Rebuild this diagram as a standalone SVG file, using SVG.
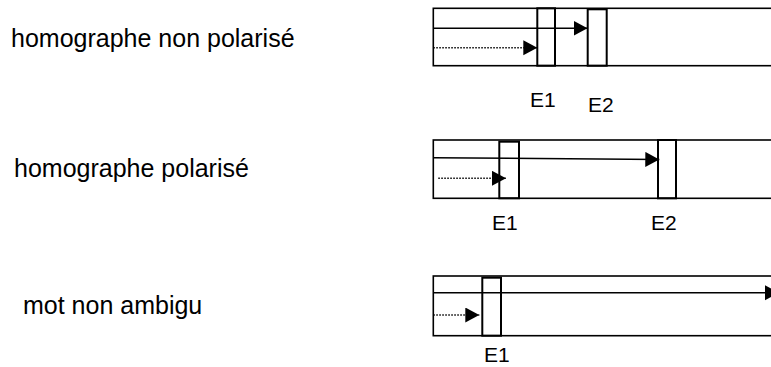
<svg xmlns="http://www.w3.org/2000/svg" width="771" height="367" viewBox="0 0 771 367">
<style>
.t{font-family:"Liberation Sans",Arial,sans-serif;fill:#000}
.lbl{font-size:25px}
.e{font-size:21px}
.band{fill:none;stroke:#000;stroke-width:1.6}
.box{fill:none;stroke:#000;stroke-width:2}
.solid{stroke:#000;stroke-width:1.6;fill:none}
.dot{stroke:#000;stroke-width:1.6;fill:none;stroke-dasharray:1.5 1.5}
</style>
<defs>
<marker id="ah" markerUnits="userSpaceOnUse" markerWidth="15" markerHeight="16" refX="14" refY="7.5" orient="auto">
<path d="M0,0 L14,7.5 L0,15 z" fill="#000"/>
</marker>
</defs>
<g id="label-non-polarise"><text class="t lbl" x="11" y="47">homographe non polarisé</text></g>
<g id="label-polarise"><text class="t lbl" x="14" y="177">homographe polarisé</text></g>
<g id="label-non-ambigu"><text class="t lbl" x="23" y="314">mot non ambigu</text></g>

<g id="band1"><rect class="band" x="433.3" y="8.3" width="360" height="57.4"/></g>
<g id="band1-E1"><rect class="box" x="537.3" y="8.3" width="17.7" height="57.4"/><text class="t e" x="530" y="107">E1</text></g>
<g id="band1-E2"><rect class="box" x="587.7" y="9.3" width="19" height="56.4"/><text class="t e" x="588" y="112">E2</text></g>

<g id="band2"><rect class="band" x="433.3" y="140" width="360" height="58.3"/></g>
<g id="band2-E1"><rect class="box" x="499.3" y="141.7" width="19.7" height="56.6"/><text class="t e" x="492" y="230">E1</text></g>
<g id="band2-E2"><rect class="box" x="658" y="140" width="18" height="58.3"/><text class="t e" x="651" y="230">E2</text></g>

<g id="band3"><rect class="band" x="433.3" y="276" width="360" height="59.7"/></g>
<g id="band3-E1"><rect class="box" x="482.3" y="277.7" width="18.7" height="58"/><text class="t e" x="484" y="362">E1</text></g>

<g id="connectors">
<line class="solid" x1="433.3" y1="28.3" x2="587.5" y2="28.3" marker-end="url(#ah)"/>
<line class="dot" x1="433.3" y1="47.7" x2="537.3" y2="47.7" marker-end="url(#ah)"/>
<line class="solid" x1="433.3" y1="157.7" x2="659.3" y2="159.5" marker-end="url(#ah)"/>
<line class="dot" x1="438.3" y1="178.3" x2="506" y2="178.3" marker-end="url(#ah)"/>
<line class="solid" x1="433.3" y1="292.7" x2="779" y2="292.7" marker-end="url(#ah)"/>
<line class="dot" x1="433.3" y1="315" x2="479.3" y2="315" marker-end="url(#ah)"/>
</g>
</svg>
